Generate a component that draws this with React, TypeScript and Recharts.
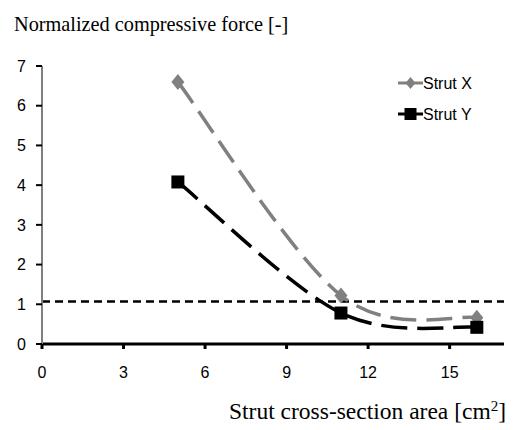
import React from "react";
import {
  LineChart,
  Line,
  XAxis,
  YAxis,
  ReferenceLine,
  Legend,
  Customized,
} from "recharts";

const areas = [5, 11, 16];
const strutX = [6.6, 1.22, 0.66];
const strutY = [4.08, 0.78, 0.42];
const xTicks = [0, 3, 6, 9, 12, 15];
const yTicks = [0, 1, 2, 3, 4, 5, 6, 7];
const limitValue = 1.07;
const seriesNames = ["Strut X", "Strut Y"];

const data = areas.map((a, i) => ({ area: a, sx: strutX[i], sy: strutY[i] }));

// Excel-like smoothed curve (Bezier with Catmull-Rom style control points)
const excelCurve = (context: any) => {
  let pts: number[][] = [];
  return {
    areaStart() {},
    areaEnd() {},
    lineStart() {
      pts = [];
    },
    point(x: number, y: number) {
      pts.push([+x, +y]);
    },
    lineEnd() {
      const n = pts.length;
      if (n === 0) return;
      context.moveTo(pts[0][0], pts[0][1]);
      for (let i = 0; i < n - 1; i++) {
        const p0 = pts[Math.max(i - 1, 0)];
        const p1 = pts[i];
        const p2 = pts[i + 1];
        const p3 = pts[Math.min(i + 2, n - 1)];
        const c1x = p1[0] + (p2[0] - p0[0]) / 6;
        const c1y = p1[1] + (p2[1] - p0[1]) / 6;
        const c2x = p2[0] - (p3[0] - p1[0]) / 6;
        const c2y = p2[1] - (p3[1] - p1[1]) / 6;
        context.bezierCurveTo(c1x, c1y, c2x, c2y, p2[0], p2[1]);
      }
    },
  };
};

const Diamond = (props: any) => {
  const { cx, cy } = props;
  if (cx == null || cy == null) return null;
  return (
    <path
      key={`d-${cx}`}
      d={`M${cx},${cy - 8} L${cx + 6.5},${cy} L${cx},${cy + 8} L${cx - 6.5},${cy} Z`}
      fill="#808080"
    />
  );
};

const Square = (props: any) => {
  const { cx, cy } = props;
  if (cx == null || cy == null) return null;
  return <rect key={`s-${cx}`} x={cx - 6.5} y={cy - 6.5} width={13} height={13} fill="#000" />;
};

const LegendContent = () => (
  <svg width={120} height={70}>
    <g>
      <line x1={2} y1={12} x2={27} y2={12} stroke="#808080" strokeWidth={3} />
      <path d="M14.5,6 L19.5,12 L14.5,18 L9.5,12 Z" fill="#808080" />
      <text x={27} y={18} fontFamily="Liberation Sans, Arial, sans-serif" fontSize={16} fill="#000">
        {seriesNames[0]}
      </text>
    </g>
    <g>
      <line x1={2} y1={43} x2={27} y2={43} stroke="#000" strokeWidth={3} />
      <rect x={8.5} y={37} width={12} height={12} fill="#000" />
      <text x={27} y={49} fontFamily="Liberation Sans, Arial, sans-serif" fontSize={16} fill="#000">
        {seriesNames[1]}
      </text>
    </g>
  </svg>
);

const Texts = () => (
  <g>
    <text x={14} y={31} fontFamily="Liberation Serif, Times New Roman, serif" fontSize={20.3} fill="#000">
      Normalized compressive force [-]
    </text>
    <text
      x={506}
      y={419}
      textAnchor="end"
      fontFamily="Liberation Serif, Times New Roman, serif"
      fontSize={23.5}
      fill="#000"
    >
      Strut cross-section area [cm<tspan dy={-8} fontSize={15}>2</tspan>
      <tspan dy={8}>]</tspan>
    </text>
  </g>
);

export default function App() {
  const tickStyle = { fontFamily: "Liberation Sans, Arial, sans-serif", fontSize: 16, fill: "#000" };
  return (
    <div style={{ position: "absolute", left: 0, top: 0, background: "#fff" }}>
      <LineChart width={518} height={430} data={data} margin={{ top: 66, right: 14, bottom: 0, left: 0 }}>
        <XAxis
          dataKey="area"
          type="number"
          domain={[0, 17]}
          ticks={xTicks}
          tick={tickStyle}
          axisLine={{ stroke: "#000", strokeWidth: 3 }}
          tickLine={{ stroke: "#000", strokeWidth: 3 }}
          tickSize={5}
          tickMargin={18}
          height={86}
          allowDataOverflow
        />
        <YAxis
          type="number"
          domain={[0, 7]}
          ticks={yTicks}
          tick={tickStyle}
          axisLine={{ stroke: "#808080", strokeWidth: 2 }}
          tickLine={{ stroke: "#000", strokeWidth: 2 }}
          tickSize={6}
          tickMargin={10}
          width={42}
          interval={0}
        />
        <ReferenceLine y={limitValue} stroke="#000" strokeWidth={2.5} strokeDasharray="8 5" />
        <Line
          dataKey="sx"
          name={seriesNames[0]}
          type={excelCurve as any}
          stroke="#808080"
          strokeWidth={3.5}
          strokeDasharray="26 10"
          dot={<Diamond />}
          activeDot={false}
          isAnimationActive={false}
        />
        <Line
          dataKey="sy"
          name={seriesNames[1]}
          type={excelCurve as any}
          stroke="#000"
          strokeWidth={3.5}
          strokeDasharray="26 10"
          dot={<Square />}
          activeDot={false}
          isAnimationActive={false}
        />
        <Legend
          layout="vertical"
          verticalAlign="middle"
          align="center"
          content={<LegendContent />}
          wrapperStyle={{ position: "absolute", left: 396, top: 71, width: 120 }}
        />
        <Customized component={<Texts />} />
      </LineChart>
    </div>
  );
}
